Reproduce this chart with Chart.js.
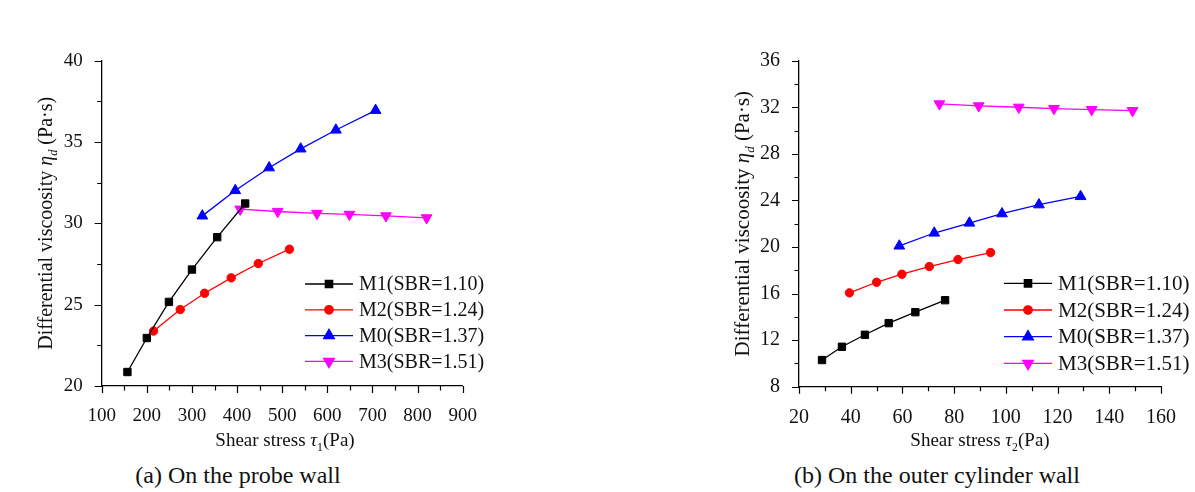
<!DOCTYPE html>
<html>
<head>
<meta charset="utf-8">
<script src="https://cdn.jsdelivr.net/npm/chart.js@4.4.0/dist/chart.umd.min.js"></script>
<style>
  body { margin: 0; background: #fff; width: 1195px; height: 492px; position: relative; overflow: hidden; font-family: "Liberation Serif", serif; }
  .box { position: absolute; top: 0; height: 460px; }
  #boxA { left: 0; width: 600px; }
  #boxB { left: 600px; width: 595px; }
  .cap { position: absolute; top: 462px; font-size: 24px; color: #111; white-space: nowrap; transform: translateX(-50%); }
</style>
</head>
<body>
<div class="box" id="boxA"><canvas id="chartA"></canvas></div>
<div class="box" id="boxB"><canvas id="chartB"></canvas></div>
<div class="cap" style="left:238px">(a) On the probe wall</div>
<div class="cap" style="left:937px">(b) On the outer cylinder wall</div>
<script>
// series shared by both panels
const seriesLabels = ['M1(SBR=1.10)', 'M2(SBR=1.24)', 'M0(SBR=1.37)', 'M3(SBR=1.51)'];
const seriesColors = ['#000000', '#ff0000', '#0000ff', '#ff00ff'];
const seriesMarkers = ['rect', 'circle', 'triangle', 'triangle'];
const markerRotation = [0, 0, 0, 180];
const markerRadius = [5.2, 4.2, 6.2, 6.2];

// (a) probe wall: shear stress tau1 (Pa) -> differential viscosity (Pa·s)
const probeM1Stress = [157, 200, 249, 300, 356, 418];
const probeM1Visc = [20.86, 22.95, 25.17, 27.16, 29.15, 31.22];
const probeM2Stress = [215, 274, 328, 387, 447, 516];
const probeM2Visc = [23.38, 24.70, 25.70, 26.65, 27.53, 28.41];
const probeM0Stress = [323, 396, 471, 541, 619, 707];
const probeM0Visc = [30.46, 32.02, 33.42, 34.58, 35.74, 36.95];
const probeM3Stress = [407, 490, 577, 649, 730, 820];
const probeM3Visc = [30.87, 30.73, 30.61, 30.55, 30.46, 30.34];

// (b) outer cylinder wall: shear stress tau2 (Pa) -> differential viscosity (Pa·s)
const outerM1Stress = [28.9, 36.6, 45.5, 54.7, 65.0, 76.5];
const outerM1Visc = [10.29, 11.43, 12.46, 13.46, 14.40, 15.43];
const outerM2Stress = [39.5, 50.0, 59.8, 70.4, 81.5, 94.1];
const outerM2Visc = [16.06, 16.97, 17.66, 18.32, 18.92, 19.52];
const outerM0Stress = [58.8, 72.3, 85.9, 98.5, 112.8, 128.9];
const outerM0Visc = [20.09, 21.20, 22.06, 22.86, 23.63, 24.34];
const outerM3Stress = [74.3, 89.5, 105.0, 118.6, 133.2, 149.0];
const outerM3Visc = [32.29, 32.12, 32.00, 31.89, 31.80, 31.71];

// axis ranges: [min, max, major step]
const probeStressAxis = [100, 900, 100];
const probeViscAxis = [20, 40, 5];
const outerStressAxis = [20, 160, 20];
const outerViscAxis = [8, 36, 4];

function makeDatasets(stressList, viscList) {
  return seriesLabels.map(function (label, i) {
    return {
      label: label,
      data: stressList[i].map(function (x, j) { return { x: x, y: viscList[i][j] }; }),
      borderColor: seriesColors[i],
      backgroundColor: seriesColors[i],
      borderWidth: 1.3,
      pointStyle: seriesMarkers[i],
      pointRotation: markerRotation[i],
      pointRadius: markerRadius[i],
      pointBorderWidth: 1,
      tension: 0
    };
  });
}

// draws rich text (italic / subscript pieces), centred on x
function drawRich(ctx, segs, x, y, size) {
  function fontFor(s) {
    const sz = s.sub ? size * 0.62 : size;
    return (s.it ? 'italic ' : '') + sz + 'px "Liberation Serif"';
  }
  let total = 0;
  segs.forEach(function (s) { ctx.font = fontFor(s); total += ctx.measureText(s.t).width; });
  let cx = x - total / 2;
  ctx.textAlign = 'left';
  ctx.textBaseline = 'alphabetic';
  segs.forEach(function (s) {
    ctx.font = fontFor(s);
    ctx.fillText(s.t, cx, y + (s.sub ? size * 0.25 : 0));
    cx += ctx.measureText(s.t).width;
  });
}

// minor/major tick marks, axis titles and the inside legend
const decorPlugin = {
  id: 'decor',
  afterDraw(chart, args, opts) {
    const ctx = chart.ctx;
    const area = chart.chartArea;
    const xs = chart.scales.x;
    const ys = chart.scales.y;
    ctx.save();
    ctx.strokeStyle = '#000';
    ctx.lineWidth = 1.2;
    ctx.beginPath();
    let k = 0;
    for (let v = xs.min; v <= xs.max + 1e-6; v += opts.xMinor, k++) {
      const px = Math.round(xs.getPixelForValue(v)) + 0.5;
      ctx.moveTo(px, area.bottom);
      ctx.lineTo(px, area.bottom + (k % 2 === 0 ? 7 : 4.5));
    }
    k = 0;
    for (let v = ys.min; v <= ys.max + 1e-6; v += opts.yMinor, k++) {
      const py = Math.round(ys.getPixelForValue(v)) + 0.5;
      ctx.moveTo(area.left, py);
      ctx.lineTo(area.left - (k % 2 === 0 ? 7 : 4.5), py);
    }
    ctx.stroke();

    // axis titles
    ctx.fillStyle = '#111';
    drawRich(ctx, opts.xTitle, opts.xTitleX, opts.xTitleY, opts.titleSize);
    ctx.save();
    ctx.translate(opts.yTitleX, (area.top + area.bottom) / 2);
    ctx.rotate(-Math.PI / 2);
    drawRich(ctx, opts.yTitle, 0, 0, opts.yTitleSize);
    ctx.restore();

    // legend: line sample with marker, then label
    chart.data.datasets.forEach(function (ds, i) {
      const y = opts.legendY + i * opts.legendGap;
      const lx = opts.legendX;
      ctx.strokeStyle = ds.borderColor;
      ctx.fillStyle = ds.backgroundColor;
      ctx.lineWidth = 1.3;
      ctx.beginPath();
      ctx.moveTo(lx, y);
      ctx.lineTo(lx + 48, y);
      ctx.stroke();
      Chart.helpers.drawPoint(ctx, {
        pointStyle: ds.pointStyle, radius: ds.pointRadius, rotation: ds.pointRotation, borderWidth: 1
      }, lx + 24, y);
      ctx.fillStyle = '#111';
      ctx.font = opts.legendSize + 'px "Liberation Serif"';
      ctx.textAlign = 'left';
      ctx.textBaseline = 'middle';
      ctx.fillText(ds.label, lx + 54, y + 1);
    });
    ctx.restore();
  }
};

function axisOptions(range, fontSize, fitFn) {
  return {
    type: 'linear',
    min: range[0],
    max: range[1],
    grid: { display: false },
    border: { display: true, color: '#000', width: 1.3 },
    ticks: { stepSize: range[2], color: '#111', padding: 11, font: { family: 'Liberation Serif', size: fontSize } },
    afterFit: fitFn
  };
}

function buildChart(canvasId, datasets, xRange, yRange, cfg) {
  return new Chart(document.getElementById(canvasId), {
    type: 'line',
    data: { datasets: datasets },
    options: {
      responsive: true,
      maintainAspectRatio: false,
      animation: false,
      layout: { padding: { left: 0, right: cfg.padRight, top: 60.7, bottom: 0 } },
      scales: {
        x: axisOptions(xRange, cfg.tickSize, function (s) { s.height = cfg.xHeight; }),
        y: axisOptions(yRange, cfg.tickSize, function (s) { s.width = cfg.yWidth; })
      },
      plugins: {
        legend: { display: false },
        tooltip: { enabled: false },
        decor: cfg.decor
      }
    },
    plugins: [decorPlugin]
  });
}

const yTitleSegs = [
  { t: 'Differential viscoosity ' }, { t: 'η', it: true }, { t: 'd', it: true, sub: true }, { t: ' (Pa·s)' }
];

buildChart('chartA',
  makeDatasets([probeM1Stress, probeM2Stress, probeM0Stress, probeM3Stress],
               [probeM1Visc, probeM2Visc, probeM0Visc, probeM3Visc]),
  probeStressAxis, probeViscAxis, {
    padRight: 137.3, xHeight: 74, yWidth: 101.7, tickSize: 19,
    decor: {
      xMinor: 50, yMinor: 2.5,
      xTitle: [{ t: 'Shear stress ' }, { t: 'τ', it: true }, { t: '1', sub: true }, { t: '(Pa)' }],
      xTitleX: 285, xTitleY: 446, titleSize: 19,
      yTitle: yTitleSegs, yTitleX: 52, yTitleSize: 20,
      legendX: 305, legendY: 284, legendGap: 25.8, legendSize: 20
    }
  });

buildChart('chartB',
  makeDatasets([outerM1Stress, outerM2Stress, outerM0Stress, outerM3Stress],
               [outerM1Visc, outerM2Visc, outerM0Visc, outerM3Visc]),
  outerStressAxis, outerViscAxis, {
    padRight: 34, xHeight: 73.3, yWidth: 199, tickSize: 20,
    decor: {
      xMinor: 10, yMinor: 2,
      xTitle: [{ t: 'Shear stress ' }, { t: 'τ', it: true }, { t: '2', sub: true }, { t: '(Pa)' }],
      xTitleX: 380, xTitleY: 446, titleSize: 19,
      yTitle: yTitleSegs, yTitleX: 149, yTitleSize: 21,
      legendX: 404, legendY: 283.3, legendGap: 26.7, legendSize: 21
    }
  });
</script>
</body>
</html>
